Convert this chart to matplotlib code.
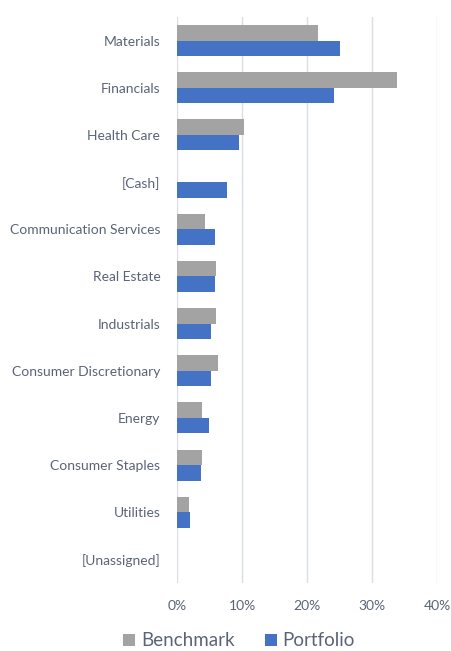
import matplotlib
matplotlib.use("Agg")
import matplotlib.pyplot as plt
import numpy as np
from matplotlib.ticker import FuncFormatter

categories = ["Materials", "Financials", "Health Care", "[Cash]", "Communication Services",
              "Real Estate", "Industrials", "Consumer Discretionary", "Energy",
              "Consumer Staples", "Utilities", "[Unassigned]"]
benchmark = [21.7, 33.8, 10.3, 0.0, 4.3, 6.0, 6.0, 6.3, 3.9, 3.8, 1.9, 0.0]
portfolio = [25.1, 24.2, 9.6, 7.7, 5.8, 5.8, 5.2, 5.2, 4.9, 3.7, 2.0, 0.0]
xticks = [0, 10, 20, 30, 40]

plt.rcParams['font.family'] = ['Lato', 'DejaVu Sans']
text_color = '#5A6478'
grid_color = '#D9DDE6'
grey = '#A3A3A3'
blue = '#4472C4'

fig = plt.figure(figsize=(4.52, 6.51), dpi=100)
ax = fig.add_axes([177/452, 1 - 583/651, (437 - 177)/452, (583 - 17)/651])

y = np.arange(len(categories))
h = 0.33
ax.barh(y - h/2, benchmark, height=h, color=grey, linewidth=0, label='Benchmark', zorder=3)
ax.barh(y + h/2, portfolio, height=h, color=blue, linewidth=0, label='Portfolio', zorder=3)

ax.set_ylim(len(categories) - 0.5, -0.5)
ax.set_xlim(0, 40)
ax.set_yticks(y)
ax.set_yticklabels(categories)
ax.set_xticks(xticks)
ax.xaxis.set_major_formatter(FuncFormatter(lambda v, p: f"{v:.0f}%"))
for s in ax.spines.values():
    s.set_visible(False)
ax.grid(axis='x', color=grid_color, linewidth=1.0, zorder=0)
ax.tick_params(axis='both', length=0, colors=text_color, labelsize=10)
ax.tick_params(axis='y', pad=12)
ax.tick_params(axis='x', pad=12)

handles, labels = ax.get_legend_handles_labels()
leg = fig.legend(handles, labels, loc='center', bbox_to_anchor=(239/452, 1 - 641/651), ncol=2,
                 frameon=False, fontsize=13.5, handlelength=0.65, handleheight=0.65,
                 handletextpad=0.3, columnspacing=1.6)
for t in leg.get_texts():
    t.set_color(text_color)

fig.savefig("out.png", dpi=100)
